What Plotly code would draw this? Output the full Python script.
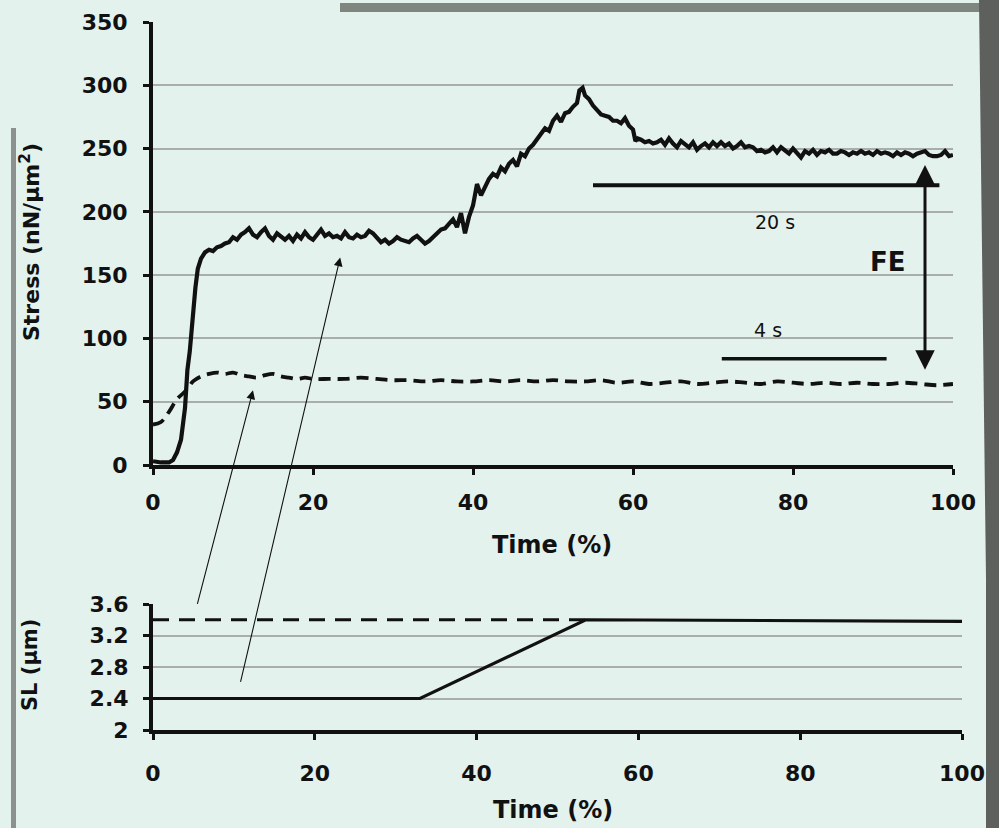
import plotly.graph_objects as go

# ---------------- data ----------------
time_active = [0, 1, 2, 2.5, 3, 3.5, 4, 4.3, 4.6, 5, 5.3, 5.6, 6, 6.5, 7, 7.5, 8, 8.5, 9, 9.5,
               10, 10.5, 11, 11.5, 12, 12.5, 13, 13.5, 14, 14.5, 15, 15.5, 16, 16.5, 17, 17.5,
               18, 18.5, 19, 19.5, 20, 20.5, 21, 21.5, 22, 22.5, 23, 23.5, 24, 24.5, 25, 25.5,
               26, 26.5, 27, 27.5, 28, 28.5, 29, 29.5, 30, 30.5, 31, 31.5, 32, 32.5, 33, 33.5,
               34, 34.5, 35, 35.5, 36, 36.5, 37, 37.5, 38, 38.5, 39, 39.5, 40, 40.5, 41, 41.5,
               42, 42.5, 43, 43.5, 44, 44.5, 45, 45.5, 46, 46.5, 47, 47.5, 48, 48.5, 49, 49.5,
               50, 50.5, 51, 51.5, 52, 52.5, 53, 53.3, 53.7, 54, 54.5, 55, 55.5, 56, 56.5, 57,
               57.5, 58, 58.5, 59, 59.5, 60, 60.3, 60.6, 61, 61.5, 62, 62.5, 63, 63.5, 64, 64.5,
               65, 65.5, 66, 66.5, 67, 67.5, 68, 68.5, 69, 69.5, 70, 70.5, 71, 71.5, 72, 72.5,
               73, 73.5, 74, 74.5, 75, 75.5, 76, 76.5, 77, 77.5, 78, 78.5, 79, 79.5, 80, 80.5,
               81, 81.5, 82, 82.5, 83, 83.5, 84, 84.5, 85, 85.5, 86, 86.5, 87, 87.5, 88, 88.5,
               89, 89.5, 90, 90.5, 91, 91.5, 92, 92.5, 93, 93.5, 94, 94.5, 95, 95.5, 96, 96.5,
               97, 97.5, 98, 98.5, 99, 99.5, 100]
stress_active = [3, 2, 2, 4, 10, 20, 45, 75, 90, 120, 140, 155, 163, 168, 170, 169, 172, 173, 175, 176,
                 180, 178, 182, 184, 187, 182, 180, 184, 187, 181, 178, 183, 180, 178, 181, 177,
                 182, 179, 184, 180, 178, 182, 186, 181, 183, 180, 181, 179, 184, 180, 179, 182,
                 180, 181, 185, 183, 179, 176, 178, 175, 177, 180, 178, 177, 176, 179, 181, 178,
                 175, 177, 180, 183, 186, 187, 190, 194, 188, 199, 183, 196, 205, 222, 213, 220,
                 226, 230, 228, 235, 232, 238, 241, 236, 246, 244, 250, 253, 257, 262, 266, 264,
                 272, 276, 271, 278, 279, 283, 286, 296, 298, 292, 289, 284, 281, 277, 276, 275,
                 272, 272, 270, 274, 268, 265, 256, 258, 257, 255, 256, 254, 255, 257, 253, 258,
                 254, 251, 256, 253, 251, 255, 249, 252, 254, 251, 255, 252, 255, 252, 254, 250,
                 252, 255, 251, 252, 251, 248, 249, 247, 248, 251, 247, 251, 248, 246, 250, 246,
                 243, 248, 246, 249, 245, 248, 247, 249, 246, 246, 248, 247, 245, 247, 246, 248,
                 246, 247, 245, 248, 246, 247, 246, 244, 247, 245, 247, 246, 244, 246, 247, 248,
                 245, 244, 244, 245, 248, 244, 245]

time_passive = [0, 1, 2, 3, 4, 4.5, 5, 6, 7, 8, 9, 10, 11, 12, 13, 14, 15, 16, 17, 18, 19, 20,
                22, 24, 26, 28, 30, 32, 34, 36, 38, 40, 42, 44, 46, 48, 50, 52, 54, 56, 58, 60,
                62, 64, 66, 68, 70, 72, 74, 76, 78, 80, 82, 84, 86, 88, 90, 92, 94, 96, 98, 100]
stress_passive = [32, 34, 42, 52, 58, 62, 66, 70, 72, 73, 72, 73, 71, 70, 69, 71, 72, 70, 69, 68, 69, 68,
                  68, 68, 69, 68, 67, 67, 66, 67, 66, 66, 67, 66, 67, 66, 67, 66, 66, 67, 65, 66,
                  64, 65, 66, 64, 65, 66, 65, 64, 66, 65, 64, 65, 64, 65, 64, 64, 65, 64, 63, 64]

time_sl_active = [0, 33, 53.5, 100]
sl_active = [2.4, 2.4, 3.4, 3.38]
time_sl_passive = [0, 53.5]
sl_passive = [3.4, 3.4]

x_ticks = [0, 20, 40, 60, 80, 100]
stress_ticks = [0, 50, 100, 150, 200, 250, 300, 350]
sl_ticks = [2, 2.4, 2.8, 3.2, 3.6]
sl_tick_labels = ["2", "2.4", "2.8", "3.2", "3.6"]

bar_20s_x = [55, 98.3]
bar_20s_y = 221
bar_4s_x = [71.1, 91.7]
bar_4s_y = 84
fe_x = 96.5
fe_y = [237, 74]

# ---------------- figure ----------------
BG = "#e4f2ee"
INK = "#111111"
GRID = "#a9aeab"
STRIP = "#5d605d"

W, H = 999, 828


def fx(p):
    return p / W


def fy(p):
    return 1 - p / H


fig = go.Figure()

fig.add_trace(go.Scatter(x=time_active, y=stress_active, mode="lines",
                         line=dict(color=INK, width=4.2), xaxis="x", yaxis="y", showlegend=False))
fig.add_trace(go.Scatter(x=time_passive, y=stress_passive, mode="lines", line_shape="spline",
                         line=dict(color=INK, width=3.8, dash="12px,7px"), xaxis="x", yaxis="y",
                         showlegend=False))
fig.add_trace(go.Scatter(x=time_sl_active, y=sl_active, mode="lines",
                         line=dict(color=INK, width=3.2), xaxis="x2", yaxis="y2", showlegend=False))
fig.add_trace(go.Scatter(x=time_sl_passive, y=sl_passive, mode="lines",
                         line=dict(color=INK, width=3.2, dash="16px,10px"), xaxis="x2", yaxis="y2",
                         showlegend=False))

axis_common = dict(showline=True, linecolor=INK, linewidth=4, ticks="outside", tickcolor=INK,
                   tickwidth=3, ticklen=6, tickfont=dict(family="DejaVu Sans", size=22, color=INK,
                                                         weight="bold"),
                   zeroline=False, fixedrange=True, automargin=False)

fig.update_layout(
    width=W, height=H, margin=dict(l=0, r=0, t=0, b=0, autoexpand=False),
    paper_bgcolor=BG, plot_bgcolor="rgba(0,0,0,0)",
    xaxis=dict(domain=[fx(153), fx(953)], range=[0, 100], tickvals=x_ticks, showgrid=False,
               anchor="y", ticklabelstandoff=9, **axis_common),
    yaxis=dict(domain=[fy(465), fy(22)], range=[0, 350], tickvals=stress_ticks,
               showgrid=True, gridcolor=GRID, gridwidth=2, anchor="x", ticklabelstandoff=11,
               **axis_common),
    xaxis2=dict(domain=[fx(153), fx(962)], range=[0, 100], tickvals=x_ticks, showgrid=False,
                anchor="y2", ticklabelstandoff=15, **axis_common),
    yaxis2=dict(domain=[fy(730), fy(604)], range=[2, 3.6], tickvals=sl_ticks,
                ticktext=sl_tick_labels, showgrid=True, gridcolor=GRID, gridwidth=2, anchor="x2",
                ticklabelstandoff=10, **axis_common),
)

# photo border artefacts
fig.add_shape(type="rect", xref="paper", yref="paper", x0=fx(340), x1=1, y0=fy(12), y1=fy(3),
              fillcolor="#7f8680", line_width=0, layer="below")
fig.add_shape(type="rect", xref="paper", yref="paper", x0=fx(986), x1=1, y0=0, y1=1,
              fillcolor=STRIP, line_width=0, layer="below")
fig.add_shape(type="path", xref="paper", yref="paper",
              path=f"M {fx(979)} 1 L {fx(990)} 1 L {fx(990)} 0 L {fx(989)} 0 Z",
              fillcolor=STRIP, line_width=0, layer="below")
fig.add_shape(type="rect", xref="paper", yref="paper", x0=fx(11), x1=fx(16), y0=0, y1=fy(128),
              fillcolor="#8c908e", line_width=0, layer="below")

# time bars
fig.add_shape(type="line", xref="x", yref="y", x0=bar_20s_x[0], x1=bar_20s_x[1], y0=bar_20s_y,
              y1=bar_20s_y, line=dict(color=INK, width=4))
fig.add_shape(type="line", xref="x", yref="y", x0=bar_4s_x[0], x1=bar_4s_x[1], y0=bar_4s_y,
              y1=bar_4s_y, line=dict(color=INK, width=3.5))

# FE double arrow
fig.add_annotation(x=fe_x, y=fe_y[0], ax=fe_x, ay=fe_y[1], xref="x", yref="y", axref="x", ayref="y",
                   text="", showarrow=True, arrowside="end+start", arrowhead=2, startarrowhead=2,
                   arrowsize=1.3, startarrowsize=1.3, arrowwidth=3, arrowcolor=INK)

# thin pointer arrows (from SL panel to stress traces)
fig.add_annotation(x=12.5, y=59, xref="x", yref="y", ax=-56, ay=215, axref="pixel", ayref="pixel",
                   text="", showarrow=True, arrowhead=2, arrowsize=1.6, arrowwidth=1.1, arrowcolor=INK)
fig.add_annotation(x=23.4, y=164, xref="x", yref="y", ax=-100, ay=426, axref="pixel", ayref="pixel",
                   text="", showarrow=True, arrowhead=2, arrowsize=1.6, arrowwidth=1.1, arrowcolor=INK)

# text labels
fig.add_annotation(x=77.7, y=192, xref="x", yref="y", text="20 s", showarrow=False,
                   font=dict(family="DejaVu Sans", size=19, color=INK))
fig.add_annotation(x=76.9, y=107, xref="x", yref="y", text="4 s", showarrow=False,
                   font=dict(family="DejaVu Sans", size=19, color=INK))
fig.add_annotation(x=91.9, y=160, xref="x", yref="y", text="FE", showarrow=False,
                   font=dict(family="DejaVu Sans", size=26, color=INK, weight="bold"))

# axis titles
TITLE_FONT = dict(family="DejaVu Sans", size=24, color=INK, weight="bold")
fig.add_annotation(x=fx(552), y=fy(545), xref="paper", yref="paper", text="Time (%)",
                   xanchor="center", yanchor="middle", showarrow=False, font=TITLE_FONT)
fig.add_annotation(x=fx(553), y=fy(810), xref="paper", yref="paper", text="Time (%)",
                   xanchor="center", yanchor="middle", showarrow=False, font=TITLE_FONT)
fig.add_annotation(x=fx(30), y=fy(242), xref="paper", yref="paper",
                   text="Stress (nN/μm<sup>2</sup>)", textangle=-90, showarrow=False,
                   xanchor="center", yanchor="middle",
                   font=dict(family="DejaVu Sans", size=22, color=INK, weight="bold"))
fig.add_annotation(x=fx(30), y=fy(665), xref="paper", yref="paper", text="SL (μm)",
                   textangle=-90, showarrow=False, xanchor="center", yanchor="middle",
                   font=dict(family="DejaVu Sans", size=21, color=INK, weight="bold"))

# place the figure flush with the window corner (no default page margin / scrollbars);
# the page background shows the photo's dark right border in any uncovered gutter
page_fix = ("document.documentElement.style.margin='0';document.body.style.margin='0';"
            "document.body.style.overflow='hidden';document.documentElement.style.overflow='hidden';"
            f"document.documentElement.style.background='{STRIP}';"
            f"document.body.style.background='{STRIP}';")

fig.write_html("out.html", post_script=page_fix, config={"displayModeBar": False})
